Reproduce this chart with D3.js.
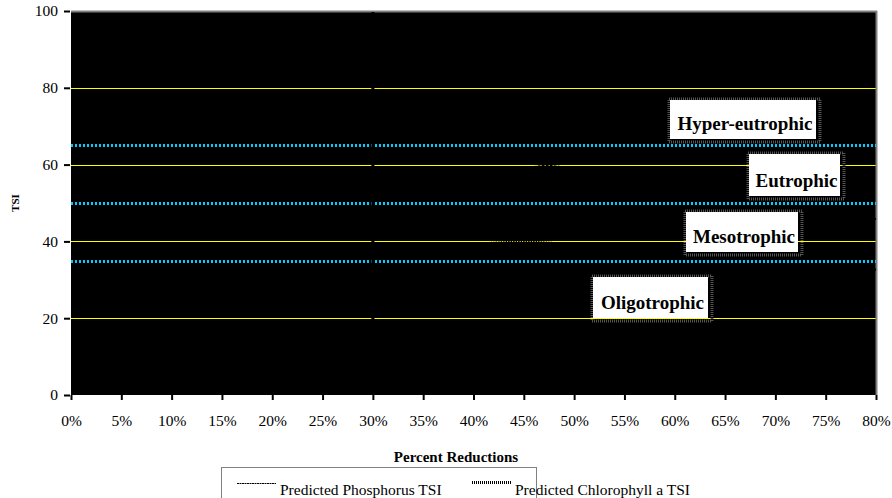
<!DOCTYPE html>
<html>
<head>
<meta charset="utf-8">
<script src="https://cdn.jsdelivr.net/npm/d3@7"></script>
<style>
  html, body { margin: 0; padding: 0; background: #fff; }
  svg { display: block; }
  text { font-family: "Liberation Serif", "Times New Roman", serif; fill: #000; }
</style>
</head>
<body>
<svg id="chart" width="892" height="498"></svg>
<script>
// ---------- data ----------
const percentReductions = [0, 5, 10, 15, 20, 25, 30, 35, 40, 45, 50, 55, 60, 65, 70, 75, 80];
const phosphorusTSI   = [69.0, 68.3, 67.5, 66.7, 65.8, 64.9, 63.9, 62.8, 61.6, 60.4, 59.0, 57.5, 55.8, 53.8, 51.6, 48.8, 45.8];
const chlorophyllTSI  = [44.6, 44.2, 43.8, 43.4, 42.9, 42.4, 41.8, 41.2, 40.6, 39.95, 39.25, 38.5, 37.6, 36.6, 35.5, 34.2, 32.6];
const trophicThresholds = [65, 50, 35];
const targetReduction = 30;
const yTickValues = [0, 20, 40, 60, 80, 100];
const gridValues = [20, 40, 60, 80];
const trophicNames = ["Hyper-eutrophic", "Eutrophic", "Mesotrophic", "Oligotrophic"];
const trophicLabelX = [66.8, 71.9, 66.7, 57.6];   // percent reduction (label centre)
const trophicLabelY = [71.7, 57.3, 42.4, 25.4];   // TSI (label centre)
const seriesNames = ["Predicted Phosphorus TSI", "Predicted Chlorophyll a TSI"];
const xTitle = "Percent Reductions";
const yTitle = "TSI";

// ---------- layout ----------
const plot = { left: 71, right: 876, top: 11, bottom: 395 };
const boxSizes = [[146, 39], [91, 42], [112, 40], [115, 41]];
const serif = "'Liberation Serif', 'Times New Roman', serif";

const svg = d3.select("#chart");
const x = d3.scaleLinear().domain([0, 80]).range([plot.left, plot.right]);
const y = d3.scaleLinear().domain([0, 100]).range([plot.bottom, plot.top]);

// plot area
svg.append("rect")
  .attr("x", plot.left).attr("y", plot.top)
  .attr("width", plot.right - plot.left).attr("height", plot.bottom - plot.top)
  .attr("fill", "#000");

// gridlines
svg.append("g").selectAll("line").data(gridValues).join("line")
  .attr("x1", plot.left).attr("x2", plot.right)
  .attr("y1", d => Math.round(y(d)) + 0.5).attr("y2", d => Math.round(y(d)) + 0.5)
  .attr("stroke", "#ffff00").attr("stroke-width", 1);

// top & right border
svg.append("line").attr("x1", plot.left).attr("x2", plot.right + 1)
  .attr("y1", plot.top + 0.5).attr("y2", plot.top + 0.5)
  .attr("stroke", "#808080").attr("stroke-width", 2);
svg.append("line").attr("x1", plot.right + 0.5).attr("x2", plot.right + 0.5)
  .attr("y1", plot.top).attr("y2", plot.bottom)
  .attr("stroke", "#808080").attr("stroke-width", 2);

// data lines (black)
const line = d3.line().x((d, i) => x(percentReductions[i])).y(d => y(d)).curve(d3.curveMonotoneX);
svg.append("path").datum(phosphorusTSI)
  .attr("d", line).attr("fill", "none")
  .attr("stroke", "#000").attr("stroke-width", 2).attr("stroke-dasharray", "3,1");
svg.append("path").datum(chlorophyllTSI)
  .attr("d", line).attr("fill", "none")
  .attr("stroke", "#000").attr("stroke-width", 2.5).attr("stroke-dasharray", "1.5,1");

// trophic thresholds (cyan dotted)
svg.append("g").selectAll("line").data(trophicThresholds).join("line")
  .attr("x1", plot.left).attr("x2", plot.right)
  .attr("y1", d => Math.round(y(d)) + 0.5).attr("y2", d => Math.round(y(d)) + 0.5)
  .attr("stroke", "#00ccff").attr("stroke-width", 3).attr("stroke-dasharray", "2,2");

// target reduction vertical line
svg.append("line")
  .attr("x1", x(targetReduction)).attr("x2", x(targetReduction))
  .attr("y1", plot.top + 1).attr("y2", plot.bottom)
  .attr("stroke", "#000").attr("stroke-width", 3);

// axes
const yAxis = d3.axisLeft(y).tickValues(yTickValues).tickSize(6).tickPadding(6).tickFormat(d3.format("d"));
const gy = svg.append("g").attr("transform", `translate(${plot.left - 1},0)`).call(yAxis);
gy.select(".domain").remove();
gy.selectAll(".tick line").attr("stroke", "#000").attr("stroke-width", 2);
gy.selectAll(".tick text").style("font-family", serif).style("font-size", "15.5px").attr("fill", "#000");

const xAxis = d3.axisBottom(x).tickValues(percentReductions).tickSize(5).tickPadding(15).tickFormat(d => d + "%");
const gx = svg.append("g").attr("transform", `translate(0,${plot.bottom})`).call(xAxis);
gx.select(".domain").remove();
gx.selectAll(".tick line").attr("stroke", "#000").attr("stroke-width", 2);
gx.selectAll(".tick text").style("font-family", serif).style("font-size", "15.5px").attr("fill", "#000");

// trophic labels
trophicNames.forEach((name, i) => {
  const cx = x(trophicLabelX[i]), cy = y(trophicLabelY[i]);
  const [w, h] = boxSizes[i];
  const bx = Math.round(cx - w / 2), by = Math.round(cy - h / 2);
  // shadow
  svg.append("rect").attr("x", bx - 1).attr("y", by - 1).attr("width", w + 5).attr("height", h + 4)
    .attr("fill", "none").attr("stroke", "#555").attr("stroke-width", 3).attr("stroke-dasharray", "1,1");
  svg.append("rect").attr("x", bx).attr("y", by).attr("width", w).attr("height", h).attr("fill", "#fff");
  svg.append("text").attr("x", bx + w / 2 + 2).attr("y", by + h - 9)
    .attr("text-anchor", "middle").style("font-weight", "bold").style("font-size", "19px")
    .text(name);
});

// axis titles
svg.append("text").attr("x", 456).attr("y", 462).attr("text-anchor", "middle")
  .style("font-weight", "bold").style("font-size", "15px").text(xTitle);
svg.append("text").attr("transform", "translate(19,203) rotate(-90)").attr("text-anchor", "middle")
  .style("font-weight", "bold").style("font-size", "11px").text(yTitle);

// legend
svg.append("rect").attr("x", 221.5).attr("y", 467.5).attr("width", 315).attr("height", 40)
  .attr("fill", "#fff").attr("stroke", "#000").attr("stroke-width", 1).attr("stroke-dasharray", "1,1");
const legendX = [237, 472];
const legendDash = ["2,0.5", "1,1"];
const legendWidth = [1.2, 3];
seriesNames.forEach((name, i) => {
  svg.append("line").attr("x1", legendX[i]).attr("x2", legendX[i] + 39)
    .attr("y1", 483.5 - i).attr("y2", 483.5 - i)
    .attr("stroke", "#000").attr("stroke-width", legendWidth[i]).attr("stroke-dasharray", legendDash[i]);
  svg.append("text").attr("x", legendX[i] + 43).attr("y", 495)
    .style("font-size", "15.5px").text(name);
});
</script>
</body>
</html>
